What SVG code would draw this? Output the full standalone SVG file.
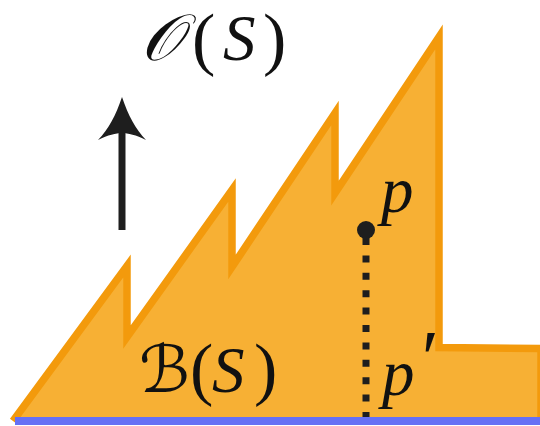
<svg xmlns="http://www.w3.org/2000/svg" width="540" height="426" viewBox="0 0 540 426">
<style>
.it{font-family:'Liberation Serif','DejaVu Serif',serif;font-style:italic;fill:#111;}
.rm{font-family:'Liberation Serif','DejaVu Serif',serif;font-style:normal;fill:#111;}
.cal{font-family:'DejaVu Sans','Noto Sans',serif;font-style:italic;fill:#111;}
.ink{fill:#1e1e1e;}
</style>
<rect width="540" height="426" fill="#ffffff"/>
<g id="region">
<polygon points="13,421 127,266 127,337 232,190 232,267 335,113 335,193 439,37 439,347.5 541,348.5 541,421" fill="#F7B034"/>
<polyline points="13,421 127,266 127,337 232,190 232,267 335,113 335,193 439,37 439,347.5 541,348.5 541,421" fill="none" stroke="#F39A0C" stroke-width="7.5" stroke-linejoin="miter" stroke-miterlimit="10"/>
</g>
<g id="baseline">
<line x1="15" y1="421" x2="540" y2="421" stroke="#6670F4" stroke-width="8"/>
</g>
<g id="label-O">
<text class="rm" font-size="65"><tspan class="cal" x="141" y="60">𝒪</tspan><tspan x="192" y="62" font-size="70">(</tspan><tspan class="it" x="223" y="60">S</tspan><tspan x="263" y="62" font-size="70">)</tspan></text>
</g>
<g id="label-B">
<text class="rm" font-size="65"><tspan class="cal" x="139" y="392">ℬ</tspan><tspan x="190" y="392" font-size="70">(</tspan><tspan class="it" x="212" y="392">S</tspan><tspan x="254" y="392" font-size="70">)</tspan></text>
</g>
<g id="point-p">
<circle class="ink" cx="366" cy="230" r="9"/>
<text class="it" x="381" y="212" font-size="65">p</text>
</g>
<g id="point-p-prime">
<text class="it" font-size="65"><tspan x="382" y="395">p</tspan><tspan x="417" y="384" font-size="78">′</tspan></text>
</g>
<g id="connectors">
<line x1="366" y1="238" x2="366" y2="417" stroke="#1e1e1e" stroke-width="7" stroke-dasharray="7 10.4"/>
<line x1="122" y1="230" x2="122" y2="130" stroke="#1e1e1e" stroke-width="7"/>
<path class="ink" d="M122,97 C128,115 136,130 146,140 C136,135 128,133 122,133 C116,133 108,135 98,140 C108,130 116,115 122,97 Z"/>
</g>
</svg>
